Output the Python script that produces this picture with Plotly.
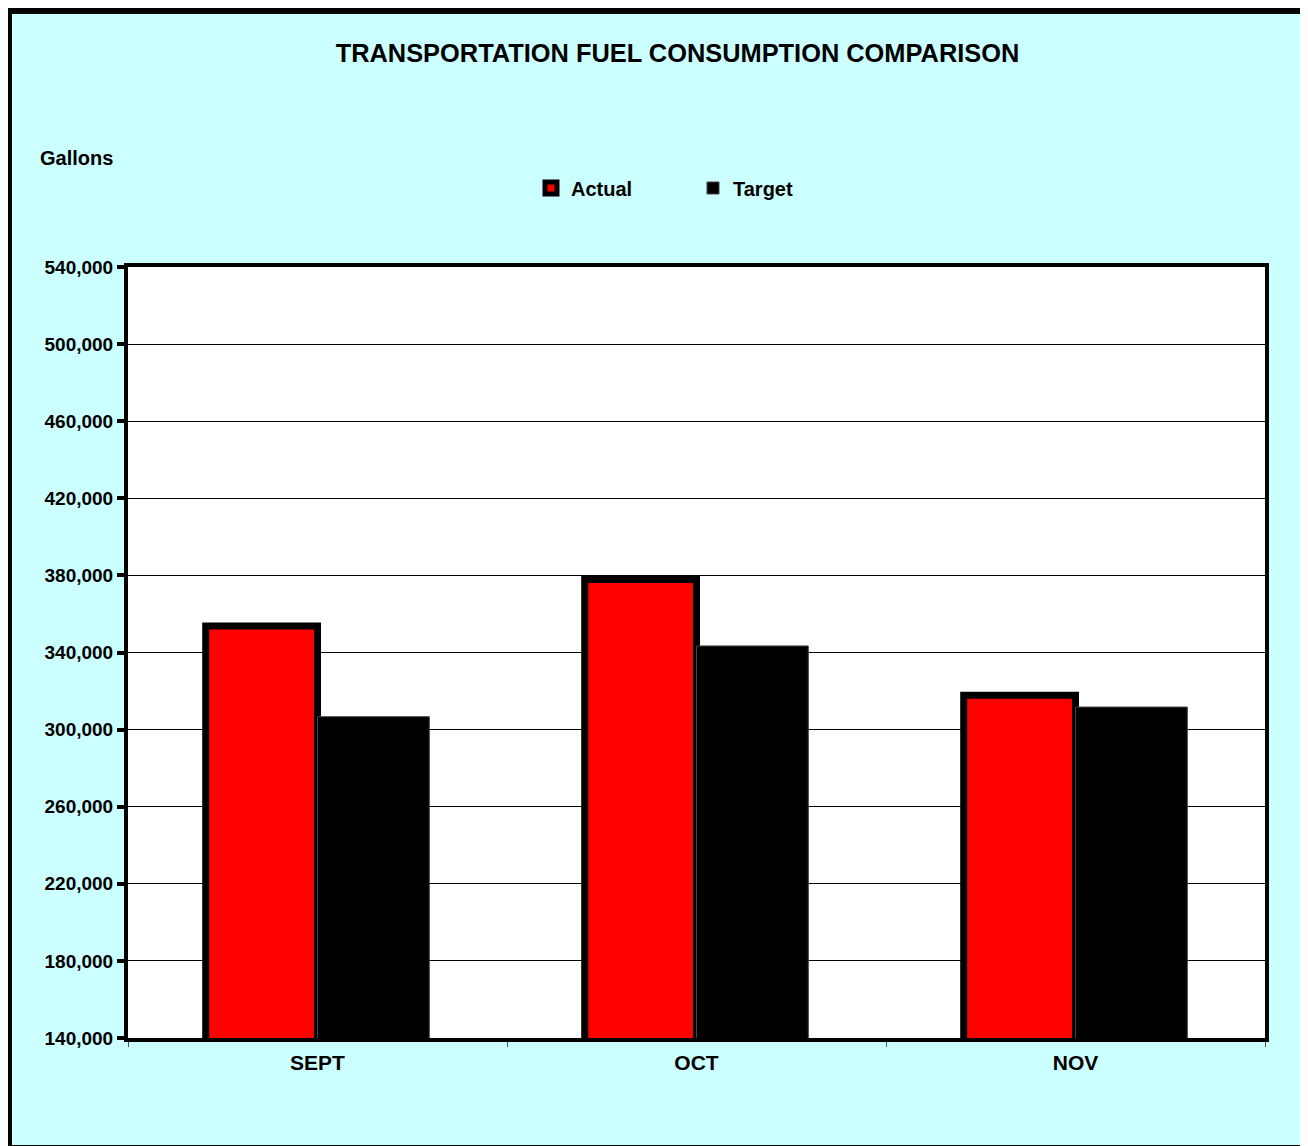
import plotly.graph_objects as go

months = ["SEPT", "OCT", "NOV"]
actual = [353700, 377900, 317800]
target = [306700, 343400, 311700]
y_ticks = [140000, 180000, 220000, 260000, 300000, 340000, 380000, 420000, 460000, 500000, 540000]

# page offset of the figure (default body margin) -> work in page pixels
OFF = 8
W, H = 1308 - OFF, 1146 - OFF
L, R, T, B = 128 - OFF, 1265 - OFF, 267 - OFF, 1038 - OFF  # plot area box in figure pixels
FONT = "Liberation Sans, Arial, sans-serif"


def px_x(p):
    """page x pixel -> paper x"""
    return (p - OFF - L) / (R - L)


def px_y(p):
    """page y pixel -> paper y"""
    return (B - (p - OFF)) / (B - T)


fig = go.Figure()
fig.add_trace(go.Bar(
    name="Actual", x=months, y=actual,
    marker=dict(color="#FF0000", line=dict(color="black", width=7)),
))
fig.add_trace(go.Bar(
    name="Target", x=months, y=target,
    marker=dict(color="black", line=dict(color="#444444", width=1)),
))

fig.update_layout(
    width=W, height=H,
    margin=dict(l=L, r=W - R, t=T, b=H - B, pad=0),
    paper_bgcolor="#CCFFFF",
    plot_bgcolor="white",
    barmode="group",
    bargap=0.41,
    bargroupgap=0,
    font=dict(family=FONT, color="black"),
    title=dict(
        text="TRANSPORTATION FUEL CONSUMPTION COMPARISON",
        font=dict(size=25.4, family=FONT, weight="bold", color="black"),
        x=(677.5 - OFF) / W, xanchor="center", xref="container",
        y=1 - (53 - OFF) / H, yanchor="middle", yref="container",
    ),
    legend=dict(
        orientation="h",
        x=px_x(531), xanchor="left",
        y=px_y(188), yanchor="middle",
        font=dict(size=20, family=FONT, weight="bold", color="black"),
        bgcolor="rgba(0,0,0,0)",
        entrywidth=117, entrywidthmode="pixels",
        itemclick=False,
    ),
    xaxis=dict(
        showline=True, linewidth=4, linecolor="black", mirror=True,
        ticks="outside", tickson="boundaries", ticklen=5, tickwidth=1, tickcolor="#555555",
        tickfont=dict(size=21, family=FONT, weight="bold", color="black"),
        ticklabelstandoff=3,
        showgrid=False,
    ),
    yaxis=dict(
        range=[140000, 540000], tickvals=y_ticks, tickformat=",",
        showline=True, linewidth=4, linecolor="black", mirror=True,
        ticks="outside", ticklen=7, tickwidth=4, tickcolor="black",
        tickfont=dict(size=19, family=FONT, weight="bold", color="black"),
        showgrid=True, gridcolor="black", gridwidth=1,
        zeroline=False,
    ),
    annotations=[dict(
        text="Gallons", xref="paper", yref="paper",
        x=px_x(38), xanchor="left", y=px_y(158), yanchor="middle",
        showarrow=False,
        font=dict(size=20, family=FONT, weight="bold", color="black"),
    )],
    shapes=[
        dict(type="rect", xref="paper", yref="paper",
             x0=px_x(8.5), x1=px_x(1320), y0=px_y(10.5), y1=px_y(1148.5),
             fillcolor="rgba(0,0,0,0)", line=dict(color="black", width=7), layer="above"),
    ],
)

fig.write_html("out.html")
